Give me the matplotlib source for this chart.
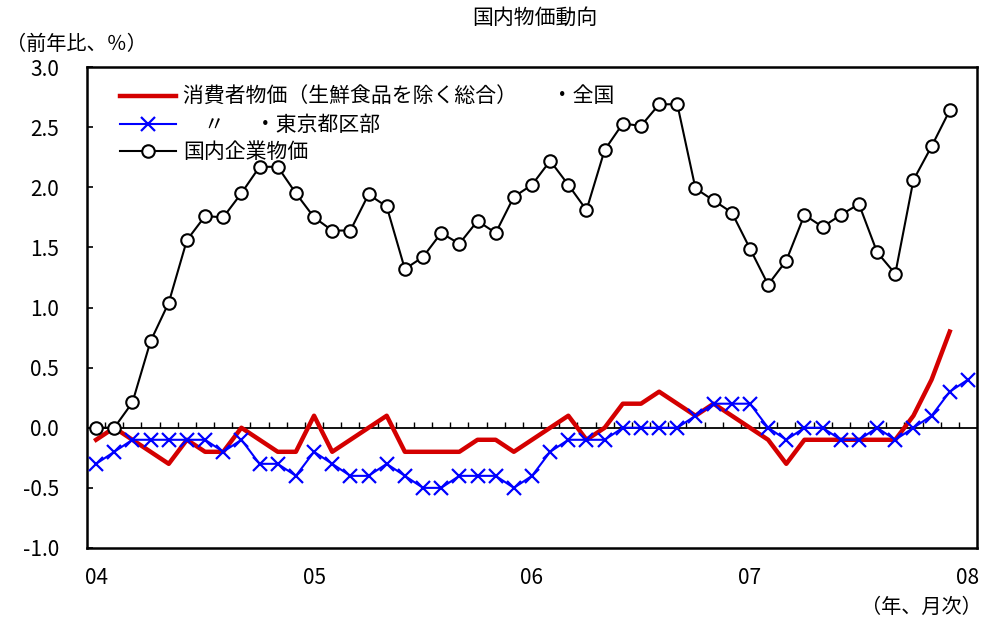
import numpy as np
import matplotlib
matplotlib.use("Agg")
import matplotlib.pyplot as plt

plt.rcParams['font.family'] = ['Noto Sans CJK JP', 'DejaVu Sans']

# monthly series, Jan 2004 onward (year-on-year, %)
cpi_core_japan = [-0.1, 0.0, -0.1, -0.2, -0.3, -0.1, -0.2, -0.2, 0.0, -0.1, -0.2, -0.2,
                  0.1, -0.2, -0.1, 0.0, 0.1, -0.2, -0.2, -0.2, -0.2, -0.1, -0.1, -0.2,
                  -0.1, 0.0, 0.1, -0.1, 0.0, 0.2, 0.2, 0.3, 0.2, 0.1, 0.2, 0.1,
                  0.0, -0.1, -0.3, -0.1, -0.1, -0.1, -0.1, -0.1, -0.1, 0.1, 0.4, 0.8]
cpi_core_tokyo = [-0.3, -0.2, -0.1, -0.1, -0.1, -0.1, -0.1, -0.2, -0.1, -0.3, -0.3, -0.4,
                  -0.2, -0.3, -0.4, -0.4, -0.3, -0.4, -0.5, -0.5, -0.4, -0.4, -0.4, -0.5,
                  -0.4, -0.2, -0.1, -0.1, -0.1, 0.0, 0.0, 0.0, 0.0, 0.1, 0.2, 0.2,
                  0.2, 0.0, -0.1, 0.0, 0.0, -0.1, -0.1, 0.0, -0.1, 0.0, 0.1, 0.3,
                  0.4]
cgpi_domestic = [0.0, 0.0, 0.21, 0.72, 1.04, 1.56, 1.76, 1.75, 1.95, 2.17, 2.17, 1.95,
                 1.75, 1.64, 1.64, 1.94, 1.84, 1.32, 1.42, 1.62, 1.53, 1.72, 1.62, 1.92,
                 2.02, 2.22, 2.02, 1.81, 2.31, 2.53, 2.51, 2.69, 2.69, 1.99, 1.89, 1.79,
                 1.49, 1.19, 1.39, 1.77, 1.67, 1.77, 1.86, 1.46, 1.28, 2.06, 2.34, 2.64]

year_labels = ['04', '05', '06', '07', '08']
series_names = ['消費者物価（生鮮食品を除く総合）　   ・全国',
                '　〃　  ・東京都区部',
                '国内企業物価']

fig = plt.figure(figsize=(9.81, 6.22), dpi=100)
ax = fig.add_axes([87/981, 1 - 548/622, 890/981, 481/622])

ax.plot(np.arange(len(cpi_core_japan)), cpi_core_japan, color='#d40000', lw=3.2,
        label=series_names[0], zorder=3)
ax.plot(np.arange(len(cpi_core_tokyo)), cpi_core_tokyo, color='#0000ff', lw=1.5,
        marker='x', ms=10, mew=1.6, label=series_names[1], zorder=4)
ax.plot(np.arange(len(cgpi_domestic)), cgpi_domestic, color='black', lw=1.5,
        marker='o', ms=9, mfc='white', mec='black', mew=1.5,
        label=series_names[2], zorder=5)

# zero line with monthly tick marks
ax.axhline(0, color='black', lw=1.3, zorder=2)
ax.vlines(np.arange(0.5, 48, 1.0), 0, 0.05, color='black', lw=1.0, zorder=2)

ax.set_xlim(-0.5, 48.5)
ax.set_ylim(-1.0, 3.0)
yt = np.arange(-1.0, 3.01, 0.5)
ax.set_yticks(yt)
ax.set_yticklabels([f'{v:.1f}' for v in yt], fontsize=15)
ax.tick_params(axis='y', direction='in', length=4, width=1.2, pad=20)
ax.set_xticks(np.arange(0, 49, 12))
ax.set_xticklabels(year_labels, fontsize=15)
ax.tick_params(axis='x', length=0, pad=14)
for s in ax.spines.values():
    s.set_linewidth(1.8)

leg = ax.legend(loc='upper left', bbox_to_anchor=(0.037, 0.96), frameon=False,
                fontsize=15, handlelength=2.7, handletextpad=0.35,
                labelspacing=0.27, borderaxespad=0, borderpad=0)

fig.text(535/981, 1 - 18/622, '国内物価動向', ha='center', va='center', fontsize=15)
fig.text(6/981, 1 - 44/622, '（前年比、％）', ha='left', va='center', fontsize=14.5)
fig.text(982/981, 1 - 607/622, '（年、月次）', ha='right', va='center', fontsize=14.5)

fig.savefig('out.png', dpi=100)
